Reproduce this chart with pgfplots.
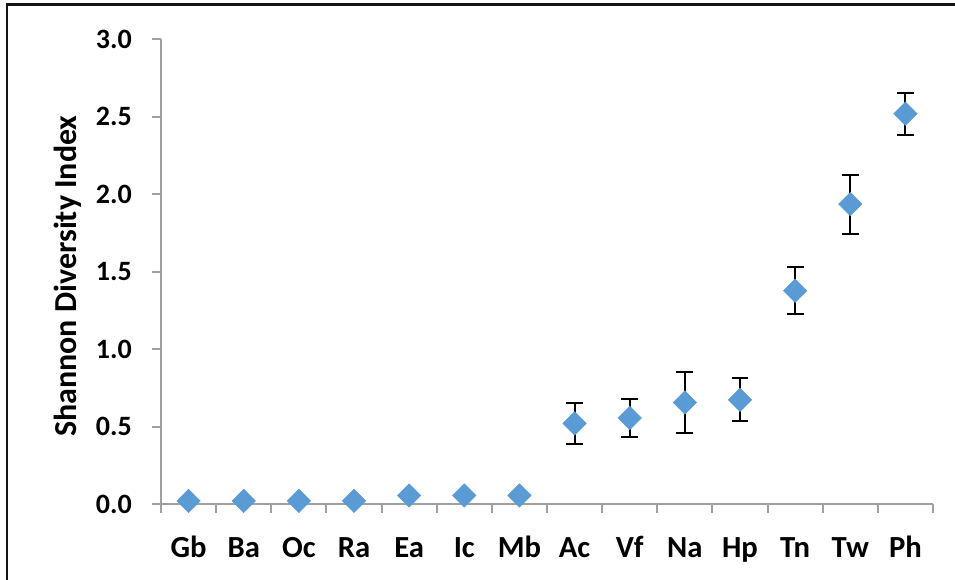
\documentclass[border=0pt]{standalone}
\usepackage{fontspec}
\setmainfont{Carlito}
\usepackage{pgfplots}
\pgfplotsset{compat=1.18}
\definecolor{mk}{RGB}{91,155,213}
\definecolor{ax}{RGB}{160,160,160}
\definecolor{fr}{RGB}{20,20,20}
\pgfplotstableread{
x y
0 0.02
1 0.02
2 0.02
3 0.02
4 0.055
5 0.055
6 0.055
}\lowdata
\pgfplotstableread{
x y e
7 0.52 0.13
8 0.555 0.12
9 0.655 0.195
10 0.672 0.138
11 1.376 0.152
12 1.935 0.19
13 2.518 0.136
}\highdata
\begin{document}
\begin{tikzpicture}
\useasboundingbox (0,0) rectangle (716.25pt,434.25pt);
\begin{axis}[
  at={(120.75pt,56.25pt)}, anchor=south west,
  scale only axis, width=579pt, height=348.75pt,
  xmin=-0.5, xmax=13.5, ymin=0, ymax=3,
  axis x line*=bottom, axis y line*=left,
  axis line style={draw=ax, line width=1.5pt, -},
  tick align=outside,
  major tick length=6.75pt,
  minor tick length=6.75pt,
  tick style={draw=ax, line width=1.5pt},
  every major x tick/.append style={draw=none},
  xtick={0,...,13},
  xticklabels={Gb,Ba,Oc,Ra,Ea,Ic,Mb,Ac,Vf,Na,Hp,Tn,Tw,Ph},
  minor xtick={-0.5,0.5,...,13.5},
  ytick={0,0.5,...,3.0},
  /pgf/number format/.cd, fixed, fixed zerofill, precision=1, assume math mode=true,
  /pgfplots/.cd,
  ticklabel style={inner sep=0pt},
  xticklabel style={font=\fontsize{23}{27}\selectfont\bfseries, anchor=base, yshift=-33pt},
  yticklabel style={font=\fontsize{21}{25}\selectfont\bfseries, anchor=east, xshift=-15pt},
  ylabel={Shannon Diversity Index},
  ylabel style={font=\fontsize{24}{28}\selectfont\bfseries, at={([xshift=-69.75pt]axis description cs:0,0.49)}, anchor=center},
  clip=false,
]
\addplot[only marks, mark=square*, mark size=6.2pt, mark options={rotate=45, fill=mk, draw=mk}] table[x=x,y=y]{\lowdata};
\addplot[only marks, mark=square*, mark size=6.2pt, mark options={rotate=45, fill=mk, draw=mk},
  error bars/.cd, y dir=both, y explicit,
  error bar style={black, line width=1.5pt},
  error mark options={rotate=90, mark size=6.3pt, line width=1.5pt, black}]
  table[x=x,y=y,y error=e]{\highdata};
\end{axis}
\draw[fr, line width=1.75pt] (5.1pt,-10pt) -- (5.1pt,430.9pt) -- (740pt,430.9pt);
\end{tikzpicture}
\end{document}
